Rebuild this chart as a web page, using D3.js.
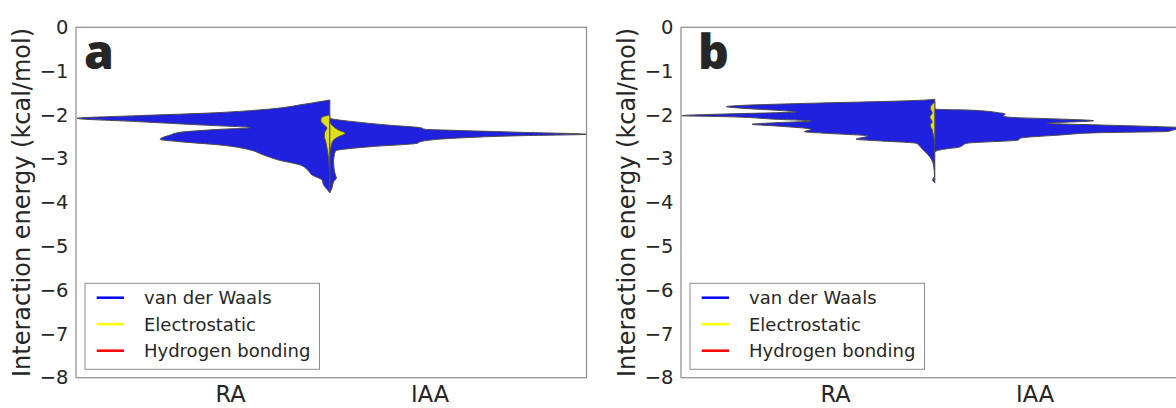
<!DOCTYPE html>
<html>
<head>
<meta charset="utf-8">
<script src="https://cdn.jsdelivr.net/npm/d3@7"></script>
<style>
  html, body { margin: 0; padding: 0; background: #fff; }
  svg { display: block; }
  text { font-family: "DejaVu Sans", sans-serif; fill: #262626; }
</style>
</head>
<body>
<div id="chart"></div>
<script>
// categories on the x axis, the split violin sits between them
const categories = ["RA", "IAA"];
const yTicks = [0, -1, -2, -3, -4, -5, -6, -7, -8];
const seriesNames = ["van der Waals", "Electrostatic", "Hydrogen bonding"];
const legendColors = ["#0000ff", "#ffff00", "#ff0000"];

// half-violins: [interaction energy, half width]
const aVdwRA = [[-1.66,0],[-1.758,0.131],[-1.865,0.298],[-1.963,0.632],[-2.018,0.966],[-2.078,1.267],
  [-2.153,0.964],[-2.233,0.634],[-2.292,0.398],[-2.329,0.549],[-2.397,0.749],[-2.459,0.799],[-2.557,0.85],
  [-2.612,0.749],[-2.687,0.549],[-2.801,0.398],[-2.9,0.34],[-3.03,0.257],[-3.144,0.148],[-3.258,0.111],
  [-3.372,0.089],[-3.486,0.039],[-3.6,0.031],[-3.714,0.011],[-3.776,0]];
const aVdwIAA = [[-2.082,0],[-2.105,0.028],[-2.155,0.119],[-2.231,0.287],[-2.292,0.453],[-2.329,0.478],
  [-2.352,0.62],[-2.397,0.954],[-2.443,1.288],[-2.475,0.954],[-2.534,0.62],[-2.612,0.453],[-2.648,0.437],
  [-2.726,0.203],[-2.824,0.028],[-3.068,0.019],[-3.372,0.028],[-3.44,0.033],[-3.525,0.019],[-3.669,0.011],[-3.776,0]];
const aElecRA = [[-1.997,0],[-2.071,0.043],[-2.139,0.045],[-2.208,0.033],[-2.299,0.015],[-2.39,0.025],
  [-2.482,0.028],[-2.619,0.02],[-2.801,0.0125],[-3.03,0.005],[-3.372,0.001],[-3.623,0]];
const aElecIAA = [[-2.155,0],[-2.269,0.019],[-2.345,0.044],[-2.42,0.078],[-2.498,0.044],[-2.573,0.019],
  [-2.726,0.006],[-2.877,0]];

const bVdwRA = [[-1.644,0],[-1.66,0.043],[-1.683,0.173],[-1.735,0.628],[-1.785,0.975],[-1.813,1.045],
  [-1.849,0.961],[-1.9,0.775],[-1.934,0.694],[-1.95,0.795],[-1.979,1.045],[-2.018,1.268],[-2.041,1.045],
  [-2.1,0.795],[-2.139,0.619],[-2.178,0.795],[-2.215,0.915],[-2.253,0.795],[-2.329,0.619],[-2.384,0.653],
  [-2.42,0.544],[-2.482,0.335],[-2.557,0.394],[-2.589,0.294],[-2.648,0.093],[-2.726,0.073],[-2.801,0.058],
  [-2.916,0.032],[-3.03,0.015],[-3.144,0.0065],[-3.395,0.0015],[-3.486,0.0105],[-3.555,0]];
const bVdwIAA = [[-1.865,0],[-1.877,0.027],[-1.888,0.161],[-1.95,0.319],[-1.979,0.353],[-2.025,0.343],
  [-2.055,0.378],[-2.1,0.662],[-2.132,0.795],[-2.192,0.562],[-2.23,0.829],[-2.283,1.209],[-2.311,1.28],
  [-2.333,1.209],[-2.379,1.163],[-2.406,0.829],[-2.459,0.628],[-2.534,0.428],[-2.573,0.419],[-2.648,0.161],
  [-2.74,0.119],[-2.763,0.077],[-2.824,0.007],[-2.847,0]];
const bElecRA = [[-1.699,0],[-1.728,0.0065],[-1.842,0.023],[-1.957,0.013],[-2.048,0.025],[-2.162,0.013],
  [-2.231,0.023],[-2.345,0.013],[-2.527,0.005],[-2.619,0]];
const bElecIAA = [];

const vdwFill = "#2020df", elecFill = "#dfdf20", edge = "#4a4a4a";
const splitPos = 0.5;

const W = 1176, H = 408;
const svg = d3.select("#chart").append("svg").attr("width", W).attr("height", H);

const drawPanel = (left, letter, letterDx, data) => {
  const top = 27.3, w = 510.5, h = 350.4;
  const x = d3.scaleLinear().domain([-0.7715, 1.786]).range([left, left + w]);
  const y = d3.scaleLinear().domain([0, -8]).range([top, top + h]);
  const g = svg.append("g");

  const clipId = "clip" + letter;
  g.append("clipPath").attr("id", clipId)
    .append("rect").attr("x", left).attr("y", top).attr("width", w).attr("height", h);
  const plot = g.append("g").attr("clip-path", "url(#" + clipId + ")");

  const half = (side) => d3.area()
    .curve(d3.curveMonotoneY)
    .y(d => y(d[0]))
    .x0(x(splitPos))
    .x1(d => x(splitPos + side * d[1]));

  const layers = [
    [data.vdw[0], -1, vdwFill], [data.vdw[1], 1, vdwFill],
    [data.elec[0], -1, elecFill], [data.elec[1], 1, elecFill]
  ];
  layers.forEach(([pts, side, col]) => {
    if (!pts.length) return;
    plot.append("path").datum(pts)
      .attr("d", half(side))
      .attr("fill", col)
      .attr("stroke", edge)
      .attr("stroke-width", 1)
      .attr("stroke-linejoin", "round");
  });

  g.append("rect").attr("x", left).attr("y", top).attr("width", w).attr("height", h)
    .attr("fill", "none").attr("stroke", "#8c8c8c").attr("stroke-width", 1.2);

  const yAxis = g.append("g").attr("transform", "translate(" + left + ",0)")
    .call(d3.axisLeft(y).tickValues(yTicks).tickSize(0).tickPadding(7.5).tickFormat(d3.format("d")));
  yAxis.select(".domain").remove();
  yAxis.selectAll("text").style("font-size", "19.5px").style("font-family", "DejaVu Sans").attr("fill", "#262626");

  const xAxis = g.append("g").attr("transform", "translate(0," + (top + h) + ")")
    .call(d3.axisBottom(x).tickValues([0, 1]).tickSize(0).tickPadding(8.8).tickFormat(i => categories[i]));
  xAxis.select(".domain").remove();
  xAxis.selectAll("text").style("font-size", "22.5px").style("font-family", "DejaVu Sans").attr("fill", "#262626");

  g.append("text")
    .attr("transform", "translate(" + (left - 46) + "," + (top + h / 2) + ") rotate(-90)")
    .attr("text-anchor", "middle")
    .style("font-size", "24px")
    .text("Interaction energy (kcal/mol)");

  g.append("text")
    .attr("x", left + letterDx).attr("y", 69)
    .style("font-family", "Open Sans").style("font-weight", 800).style("font-size", "48px")
    .attr("fill", "#000")
    .text(letter);

  const leg = g.append("g");
  leg.append("rect").attr("x", left + 9).attr("y", 283.3).attr("width", 234.5).attr("height", 86)
    .attr("fill", "#fff").attr("stroke", "#8c8c8c").attr("stroke-width", 1);
  seriesNames.forEach((name, i) => {
    const ry = 297.7 + i * 26.5;
    leg.append("line").attr("x1", left + 20.7).attr("x2", left + 48).attr("y1", ry).attr("y2", ry)
      .attr("stroke", legendColors[i]).attr("stroke-width", 2.5);
    leg.append("text").attr("x", left + 68).attr("y", ry + 6.5)
      .style("font-size", "18px").text(name);
  });
};

drawPanel(76, "a", 8, { vdw: [aVdwRA, aVdwIAA], elec: [aElecRA, aElecIAA] });
drawPanel(681, "b", 17, { vdw: [bVdwRA, bVdwIAA], elec: [bElecRA, bElecIAA] });
</script>
</body>
</html>
